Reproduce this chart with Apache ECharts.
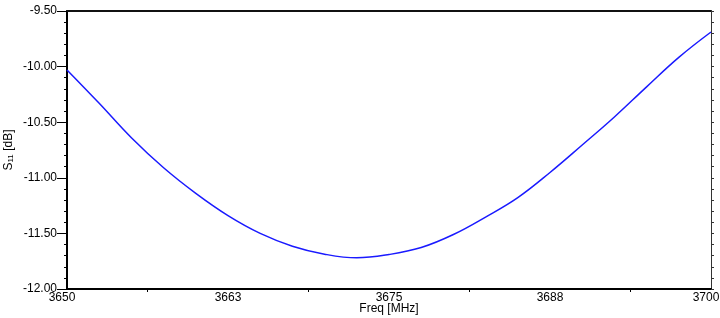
<!DOCTYPE html>
<html>
<head>
<meta charset="UTF-8">
<title>S11</title>
<script src="https://cdn.jsdelivr.net/npm/echarts@6/dist/echarts.min.js"></script>
<style>
  html, body { margin: 0; padding: 0; background: #fff; }
  #chart { width: 720px; height: 318px; }
</style>
</head>
<body>
<div id="chart"></div>
<script>
    // frequency points (MHz) and S11 (dB)
    var freq = [3650, 3652.5, 3655, 3657.5, 3660, 3662.5, 3665, 3667.5, 3670, 3672.5, 3675,
                3677.5, 3680, 3682.5, 3685, 3687.5, 3690, 3692.5, 3695, 3697.5, 3700];
    var s11 = [-10.03, -10.33, -10.64, -10.91, -11.14, -11.34, -11.50, -11.615, -11.687, -11.72, -11.69,
               -11.627, -11.51, -11.353, -11.178, -10.952, -10.705, -10.453, -10.182, -9.917, -9.689];
    var yTicks = [-12, -11.5, -11, -10.5, -10, -9.5];

    var pts = [];
    for (var i = 0; i < freq.length; i++) {
        pts.push([freq[i], s11[i]]);
    }

    var myChart = echarts.init(document.getElementById('chart'));
    var font = 'Liberation Sans, Arial, sans-serif';

    var option = {
        animation: false,
        grid: { left: 67, right: 9, top: 11, bottom: 29, containLabel: false, outerBoundsMode: 'none' },
        xAxis: [{
            type: 'value',
            min: 3650,
            max: 3700,
            interval: 12.5,
            name: 'Freq [MHz]',
            nameLocation: 'middle',
            nameGap: 14,
            nameMoveOverlap: false,
            nameTextStyle: { color: '#000', fontSize: 12, fontFamily: font, verticalAlign: 'top' },
            axisLine: { onZero: false, lineStyle: { color: '#000', width: 2 } },
            axisTick: { show: false },
            minorTick: { show: true, splitNumber: 2, length: 3, lineStyle: { color: '#000' } },
            splitLine: { show: false },
            axisLabel: {
                color: '#000', fontSize: 12, fontFamily: font, margin: 3,
                formatter: function (v) {
                    // end labels sit a bit off the corners in the original
                    if (v === 3650) return '{l|3650}';
                    if (v === 3700) return '{r|3700}';
                    return Math.round(v);
                },
                rich: {
                    l: { fontSize: 12, fontFamily: font, color: '#000', padding: [0, 10, 0, 0] },
                    r: { fontSize: 12, fontFamily: font, color: '#000', padding: [0, 10, 0, 0] }
                }
            }
        }, {
            type: 'value',
            position: 'top',
            min: 3650,
            max: 3700,
            axisLine: { lineStyle: { color: '#111', width: 2 } },
            axisTick: { show: false },
            axisLabel: { show: false },
            splitLine: { show: false }
        }],
        yAxis: [{
            type: 'value',
            min: yTicks[0],
            max: yTicks[yTicks.length - 1],
            interval: 0.5,
            name: '{a|S}{b|11}{a| [dB]}',
            nameLocation: 'middle',
            nameRotate: 90,
            nameGap: 52,
            nameMoveOverlap: false,
            nameTextStyle: {
                color: '#000', fontFamily: font,
                rich: {
                    a: { fontSize: 12, fontFamily: font, color: '#000' },
                    b: { fontSize: 8, fontFamily: font, color: '#000', verticalAlign: 'bottom', padding: [4, 0, 0, 0] }
                }
            },
            axisLine: { onZero: false, lineStyle: { color: '#000', width: 2 } },
            axisTick: { length: 10, lineStyle: { color: '#000' } },
            minorTick: { show: true, splitNumber: 5, length: 3, lineStyle: { color: '#000' } },
            splitLine: { show: false },
            axisLabel: {
                color: '#000', fontSize: 12, fontFamily: font, margin: 10,
                verticalAlign: 'middle', padding: [0, 0, 9, 0],
                formatter: function (v) { return v.toFixed(2); }
            }
        }, {
            type: 'value',
            position: 'right',
            min: yTicks[0],
            max: yTicks[yTicks.length - 1],
            interval: 0.5,
            axisLine: { lineStyle: { color: '#333', width: 1 } },
            axisTick: { length: 3, lineStyle: { color: '#333' } },
            minorTick: { show: true, splitNumber: 5, length: 3, lineStyle: { color: '#333' } },
            axisLabel: { show: false },
            splitLine: { show: false }
        }],
        series: [{
            type: 'line',
            data: pts,
            smooth: 0.4,
            showSymbol: false,
            lineStyle: { color: '#1a1aff', width: 1.5 }
        }]
    };

    myChart.setOption(option);
</script>
</body>
</html>
